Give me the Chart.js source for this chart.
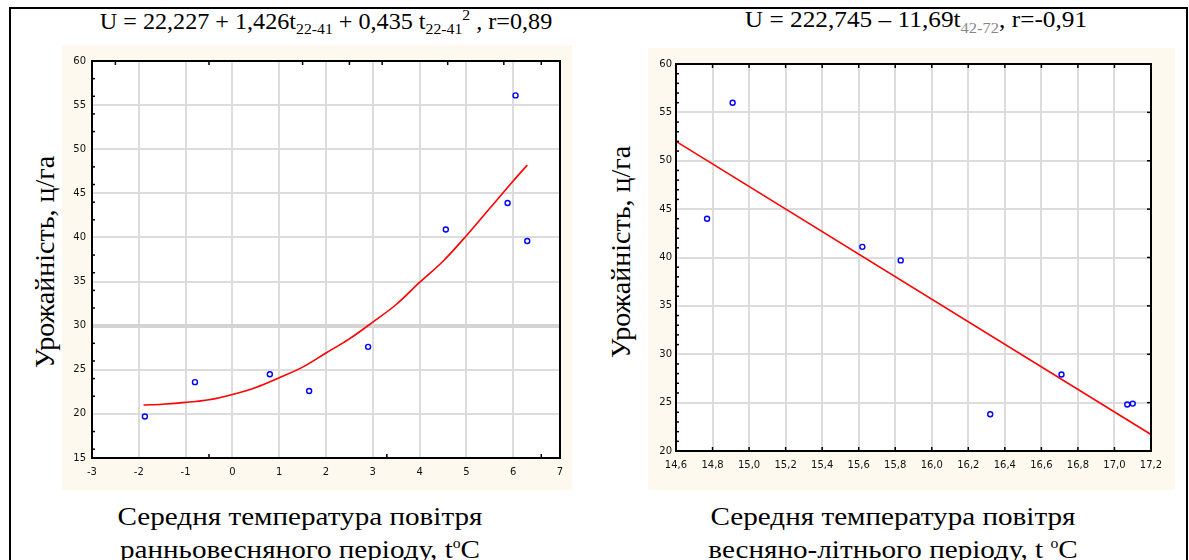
<!DOCTYPE html>
<html><head><meta charset="utf-8">
<script src="https://cdn.jsdelivr.net/npm/chart.js@4/dist/chart.umd.min.js"></script>
<style>
html,body{margin:0;padding:0;background:#fff;width:1189px;height:560px;overflow:hidden;position:relative;font-family:"Liberation Serif","Times New Roman",serif;color:#000}
#frame{position:absolute;left:9px;top:7px;width:1175px;height:560px;border-top:2px solid #000;border-left:2px solid #000;border-right:2px solid #000}
.panel{position:absolute;background:#fdf9ef}
.title{position:absolute;font-size:23px;white-space:nowrap;text-align:center}
.title sub,.title sup{font-size:15px}
.ytitle{position:absolute;font-size:28px;white-space:nowrap;transform:translate(-50%,-50%) rotate(-90deg)}
.xtitle{position:absolute;font-size:26px;line-height:27px;white-space:nowrap;text-align:center;transform:translateX(-50%) scaleX(1.12)}
</style></head>
<body>
<div id="frame"></div>
<div class="panel" style="left:62px;top:45px;width:510px;height:445px"><canvas id="c1"></canvas></div>
<div class="panel" style="left:648px;top:48px;width:527px;height:442px"><canvas id="c2"></canvas></div>
<div class="title" style="left:326px;top:7px;transform:translateX(-50%) scaleX(1.05)">U = 22,227 + 1,426t<sub>22-41</sub> + 0,435 t<sub>22-41</sub><sup>2</sup> , r=0,89</div>
<div class="title" style="left:916px;top:7px;transform:translateX(-50%) scaleX(1.1)">U = 222,745 – 11,69t<sub style="color:#888">42-72</sub>, r=-0,91</div>
<div class="ytitle" style="left:45px;top:262px">Урожайність, ц/га</div>
<div class="ytitle" style="left:621px;top:252px">Урожайність, ц/га</div>
<div class="xtitle" style="left:300px;top:503px">Середня температура повітря<br>ранньовесняного періоду, t<sup style="font-size:14px">o</sup>C</div>
<div class="xtitle" style="left:893px;top:503px">Середня температура повітря<br>весняно-літнього періоду, t <sup style="font-size:14px">o</sup>C</div>
<script>
// ---- data ----
const leftTemp  = [-1.87, -0.8, 0.8, 1.64, 2.9, 4.56, 5.88, 6.05, 6.3];
const leftYield = [19.7, 23.6, 24.5, 22.6, 27.6, 40.9, 43.9, 56.1, 39.6];
const leftFitT  = [-1.9, -1.5, -1, -0.5, 0, 0.5, 1, 1.5, 2, 2.5, 3, 3.5, 4, 4.5, 5, 5.5, 6, 6.3];
const leftFitU  = [21.0, 21.1, 21.3, 21.6, 22.2, 23.0, 24.1, 25.3, 26.9, 28.5, 30.4, 32.4, 34.9, 37.3, 40.2, 43.3, 46.4, 48.2];
const leftXTicks = [-3, -2, -1, 0, 1, 2, 3, 4, 5, 6, 7];
const leftYTicks = [15, 20, 25, 30, 35, 40, 45, 50, 55, 60];

const rightTemp  = [14.77, 14.91, 15.62, 15.83, 16.32, 16.71, 17.07, 17.1];
const rightYield = [44.0, 56.0, 41.1, 39.7, 23.8, 27.9, 24.8, 24.9];
const rightFitT  = [14.6, 17.2];
const rightFitU  = [52.0, 21.7];
const rightXTicks = [14.6, 14.8, 15.0, 15.2, 15.4, 15.6, 15.8, 16.0, 16.2, 16.4, 16.6, 16.8, 17.0, 17.2];
const rightYTicks = [20, 25, 30, 35, 40, 45, 50, 55, 60];

function pts(xs, ys){ return xs.map((x,i)=>({x:x, y:ys[i]})); }

const framePlugin = {
  id:'frameTicks',
  beforeDraw(chart){
    const {ctx, chartArea:a} = chart;
    ctx.save(); ctx.fillStyle='#fff'; ctx.fillRect(a.left, a.top, a.right-a.left, a.bottom-a.top); ctx.restore();
  },
  afterDatasetsDraw(chart, args, opts){
    const {ctx, chartArea:a, scales:{x, y}} = chart;
    ctx.save();
    ctx.strokeStyle = '#000';
    ctx.lineWidth = 1.5;
    (opts.left||[]).forEach(v=>{const p=y.getPixelForValue(v); const l=(v%5===0)?5:3; ctx.beginPath(); ctx.moveTo(a.left,p); ctx.lineTo(a.left+l,p); ctx.stroke();});
    (opts.right||[]).forEach(v=>{const p=y.getPixelForValue(v); ctx.beginPath(); ctx.moveTo(a.right,p); ctx.lineTo(a.right-4,p); ctx.stroke();});
    (opts.top||[]).forEach(v=>{const p=x.getPixelForValue(v); ctx.beginPath(); ctx.moveTo(p,a.top); ctx.lineTo(p,a.top+4); ctx.stroke();});
    (opts.bottom||[]).forEach(v=>{const p=x.getPixelForValue(v); ctx.beginPath(); ctx.moveTo(p,a.bottom); ctx.lineTo(p,a.bottom-4); ctx.stroke();});
    ctx.lineWidth = 2;
    ctx.strokeRect(a.left, a.top, a.right-a.left, a.bottom-a.top);
    ctx.restore();
  }
};

function makeChart(id, cfg){
  return new Chart(document.getElementById(id), {
    type:'scatter',
    data:{datasets:[
      {type:'line', data:pts(cfg.fitT, cfg.fitU), borderColor:'#ff0000', borderWidth:1.6, pointRadius:0, fill:false, cubicInterpolationMode:'monotone', order:2},
      {data:pts(cfg.xs, cfg.ys), borderColor:'#0000ff', backgroundColor:'rgba(0,0,0,0)', pointRadius:2.5, pointBorderWidth:1.4, order:1}
    ]},
    options:{
      responsive:true, maintainAspectRatio:false, animation:false,
      layout:{padding:cfg.pad},
      plugins:{legend:{display:false}, tooltip:{enabled:false}, frameTicks:cfg.marks},
      scales:{
        x:{type:'linear', min:cfg.xTicks[0], max:cfg.xTicks[cfg.xTicks.length-1],
           afterBuildTicks:s=>{s.ticks=cfg.xTicks.map(v=>({value:v}));},
           afterFit:s=>{s.height=cfg.xh;},
           grid:{color:'#dcdcdc', lineWidth:2, drawTicks:false},
           border:{display:false},
           ticks:{font:{family:'DejaVu Sans', size:10}, color:'#111', padding:cfg.xpad, maxRotation:0, autoSkip:false,
                  callback:v=>cfg.xfmt(v)}},
        y:{type:'linear', min:cfg.yTicks[0], max:cfg.yTicks[cfg.yTicks.length-1],
           afterBuildTicks:s=>{s.ticks=cfg.yTicks.map(v=>({value:v}));},
           afterFit:s=>{s.width=cfg.yw;},
           grid:{color:c=>(cfg.thick && c.tick && c.tick.value===30)?'#d4d4d4':'#dcdcdc', lineWidth:c=>(cfg.thick && c.tick && c.tick.value===30)?4:2, drawTicks:false},
           border:{display:false},
           ticks:{font:{family:'DejaVu Sans', size:10}, color:'#111', padding:cfg.ypad, autoSkip:false, callback:v=>String(v)}}
      }
    },
    plugins:[framePlugin]
  });
}

const minorL = []; for(let v=16; v<60; v++) if(v%5!==0) minorL.push(v);
const minorR = []; for(let v=21; v<60; v++) if(v%5!==0) minorR.push(v);

makeChart('c1', {
  xs:leftTemp, ys:leftYield, fitT:leftFitT, fitU:leftFitU,
  xTicks:leftXTicks, yTicks:leftYTicks,
  pad:{top:16, right:12, left:0, bottom:0}, xh:32, yw:30, xpad:8, ypad:6,
  thick:true,
  xfmt:v=>String(v),
  marks:{left:minorL.filter(v=>v%2===0), top:[-2.5,-0.5,1.5,2.5,3.2,4.6,5.8,6.6], bottom:[-0.5,3.3,6.6]}
});
makeChart('c2', {
  xs:rightTemp, ys:rightYield, fitT:rightFitT, fitU:rightFitU,
  xTicks:rightXTicks, yTicks:rightYTicks,
  pad:{top:16, right:24, left:0, bottom:0}, xh:39, yw:28, xpad:8, ypad:4,
  thick:false,
  xfmt:v=>v.toFixed(1).replace('.', ','),
  marks:{left:minorR, right:[25,30,35,40,45,50,55], top:rightXTicks, bottom:rightXTicks}
});
</script>
</body></html>
